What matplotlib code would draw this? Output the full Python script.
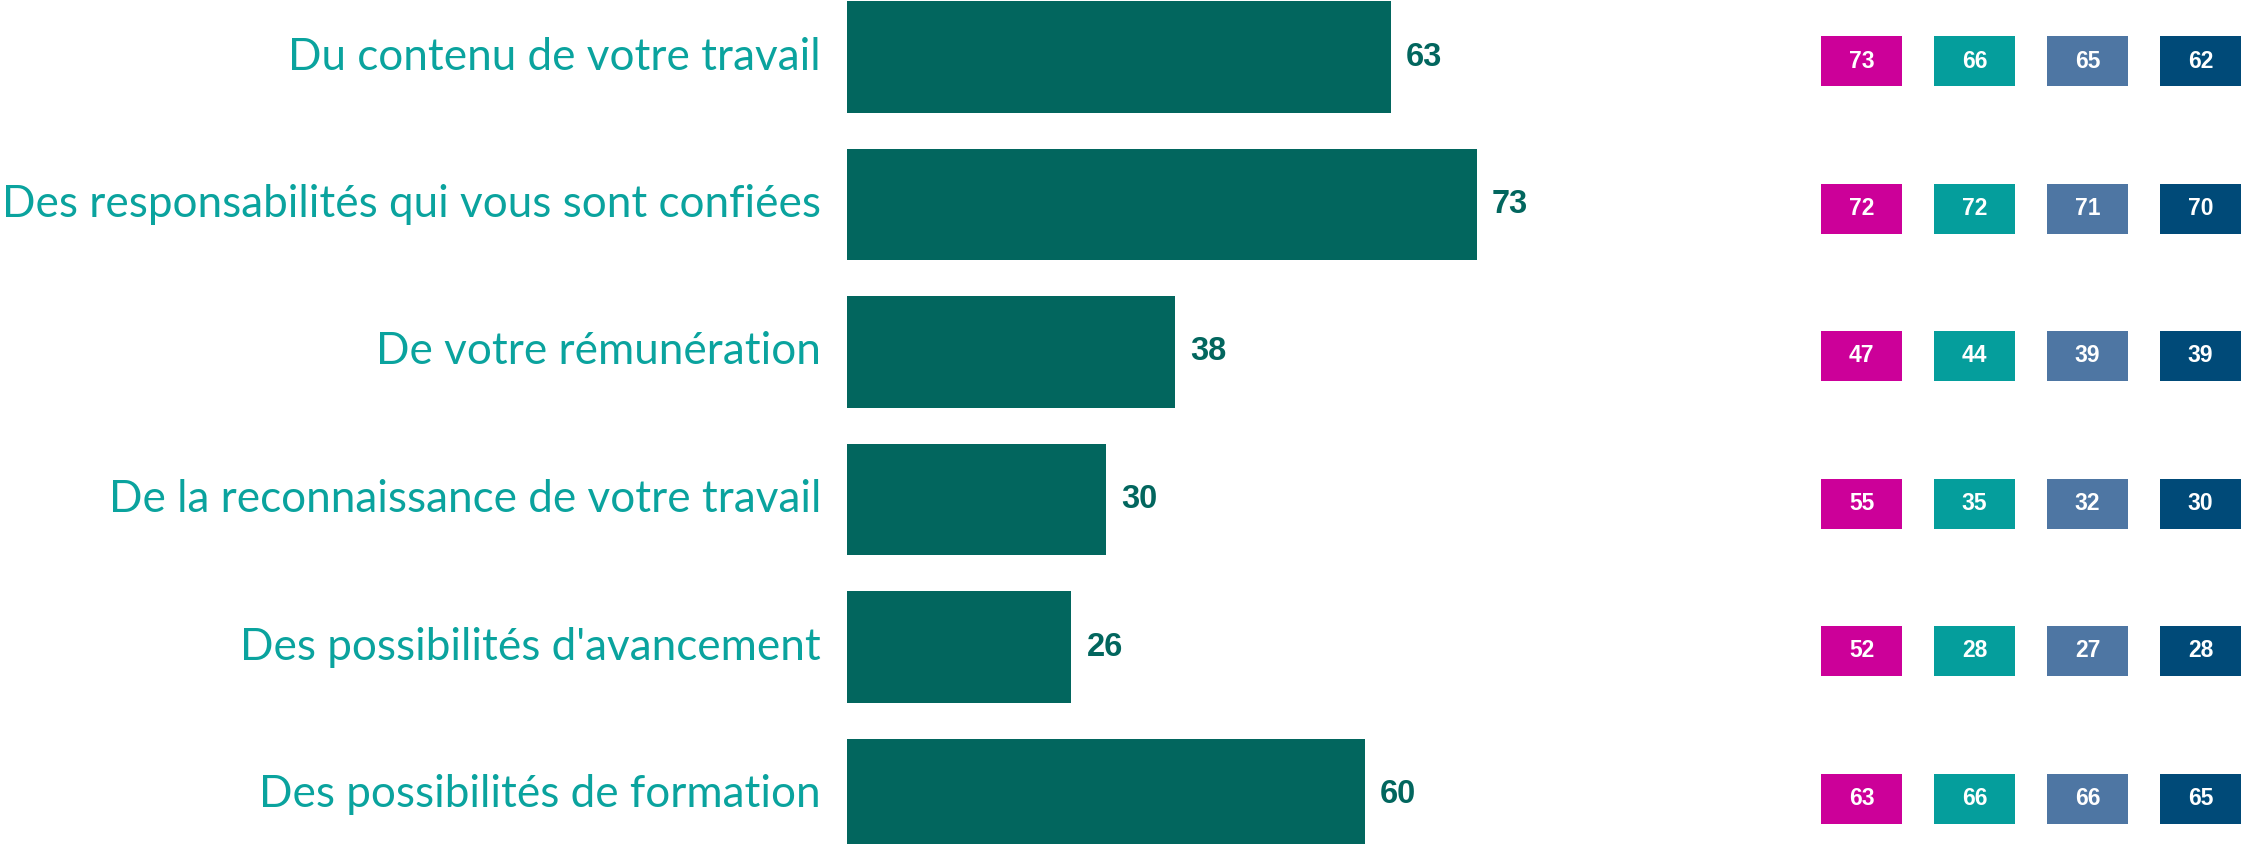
import numpy as np
import matplotlib.pyplot as plt

categories = ["Du contenu de votre travail",
              "Des responsabilités qui vous sont confiées",
              "De votre rémunération",
              "De la reconnaissance de votre travail",
              "Des possibilités d'avancement",
              "Des possibilités de formation"]
values = [63, 73, 38, 30, 26, 60]

# comparison columns (boxes on the right)
comp1 = [73, 72, 47, 55, 52, 63]
comp2 = [66, 72, 44, 35, 28, 66]
comp3 = [65, 71, 39, 32, 27, 66]
comp4 = [62, 70, 39, 30, 28, 65]
comp_colors = ['#cc0099', '#059e9c', '#4e76a3', '#004a78']

W, H = 2241, 844
px_unit = 8.63      # pixels per value unit
row_px = 147.5      # pixels between rows
x0 = 847            # left edge of bars

fig = plt.figure(figsize=(W / 100, H / 100), dpi=100)
ax = fig.add_axes([x0 / W, 0, (W - x0) / W, 1])
ax.set_xlim(0, (W - x0) / px_unit)
top = -57 / row_px
ax.set_ylim(top + H / row_px, top)
ax.axis('off')

y = np.arange(len(categories))
ax.barh(y, values, height=111.5 / row_px, color='#02665e')

for i in range(len(categories)):
    ax.text(-26 / px_unit, y[i], categories[i], ha='right', va='center',
            fontsize=31.7, family='Lato', color='#0aa39e', clip_on=False)
    ax.text(values[i] + 15 / px_unit, y[i], str(values[i]), ha='left', va='center',
            fontsize=23.5, family='Liberation Sans', fontweight='bold', color='#02665e')

box_w = 81 / px_unit
box_h = 50 / row_px
for k, comp in enumerate([comp1, comp2, comp3, comp4]):
    left = (1821 - x0 + k * 113) / px_unit
    yy = y + 4 / row_px
    ax.barh(yy, box_w, left=left, height=box_h, color=comp_colors[k])
    for i in range(len(comp)):
        ax.text(left + box_w / 2, yy[i], str(comp[i]), ha='center', va='center',
                fontsize=16.5, family='Liberation Sans', fontweight='bold', color='white')

fig.savefig('out.png', dpi=100)
